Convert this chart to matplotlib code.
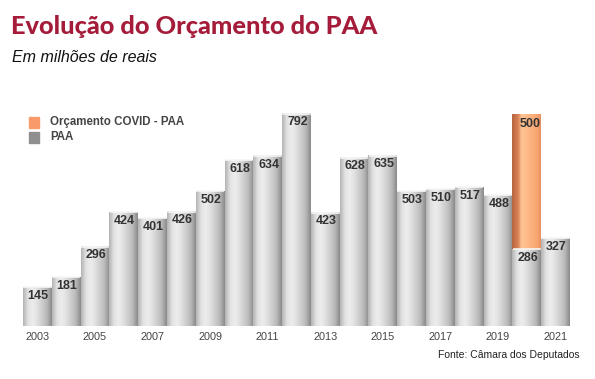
import numpy as np
import matplotlib.pyplot as plt
from matplotlib.colors import LinearSegmentedColormap

# --- dados ---
anos = list(range(2003, 2022))
paa = [145, 181, 296, 424, 401, 426, 502, 618, 634, 792, 423, 628, 635,
       503, 510, 517, 488, 286, 327]
covid_ano = 2020
covid_valor = 500
rotulos_anos = [a for a in anos if a % 2 == 1]

# --- cores ---
vermelho = "#a51c3a"
texto = "#333333"
cinza_bar = LinearSegmentedColormap.from_list(
    "cinza", ["#b4b4b4", "#e2e2e2", "#ededed", "#e0e0e0", "#cdcdcd", "#b8b8b8", "#8a8a8a"])
laranja_bar = LinearSegmentedColormap.from_list(
    "laranja", [(0, "#b86440"), (0.22, "#d98456"), (0.32, "#ffc595"),
                (0.6, "#fdb684"), (0.9, "#f7a46f"), (1, "#e8915e")])

fig = plt.figure(figsize=(5.95, 3.79), dpi=100)
ax = fig.add_axes([23 / 595, 53 / 379, 547 / 595, 220 / 379])

grad = np.linspace(0, 1, 64).reshape(1, -1)
w = 1.0
for i, v in enumerate(paa):
    ax.imshow(grad, cmap=cinza_bar, aspect="auto", extent=(i - w / 2, i + w / 2, 0, v),
              origin="lower", interpolation="bicubic", zorder=2)
    # borda superior clara
    ax.plot([i - w / 2 + 0.04, i + w / 2 - 0.04], [v, v], color="#f6f6f6", lw=1.2, zorder=3)
    ax.text(i + 0.03, v - 10, str(v), ha="center", va="top", fontsize=9,
            fontweight="bold", color=texto, family="Liberation Sans", zorder=5)

# barra COVID empilhada
ic = anos.index(covid_ano)
base = paa[ic]
ax.imshow(grad, cmap=laranja_bar, aspect="auto",
          extent=(ic - w / 2, ic + w / 2, base, base + covid_valor),
          origin="lower", interpolation="bicubic", zorder=2)
ax.text(ic + 0.1, base + covid_valor - 10, str(covid_valor), ha="center", va="top",
        fontsize=9, fontweight="bold", color=texto, family="Liberation Sans", zorder=5)

ax.set_xlim(-0.5, len(anos) - 0.5)
ax.set_ylim(0, 820)
ax.set_xticks([anos.index(a) for a in rotulos_anos])
ax.set_xticklabels([str(a) for a in rotulos_anos], fontsize=7.8, color="#444444",
                   family="Liberation Sans")
ax.tick_params(axis="x", length=0, pad=4)
ax.set_yticks([])
for s in ax.spines.values():
    s.set_visible(False)

# legenda
fig.patches.append(plt.Rectangle((29 / 595, 1 - 128 / 379), 10 / 595, 11 / 379,
                                 transform=fig.transFigure, color="#f99a6b"))
fig.patches.append(plt.Rectangle((29 / 595, 1 - 143 / 379), 10 / 595, 11 / 379,
                                 transform=fig.transFigure, color="#8f8f8f"))
fig.text(50 / 595, 1 - 122 / 379, "Orçamento COVID - PAA", fontsize=8.3, fontweight="bold",
         color="#444444", va="center", family="Liberation Sans")
fig.text(50 / 595, 1 - 137 / 379, "PAA", fontsize=8.3, fontweight="bold",
         color="#444444", va="center", family="Liberation Sans")

# títulos
fig.text(11 / 595, 1 - 27 / 379, "Evolução do Orçamento do PAA", fontsize=18.3,
         fontweight="black", color=vermelho, va="center", family=["Lato", "DejaVu Sans"])
fig.text(12 / 595, 1 - 57 / 379, "Em milhões de reais", fontsize=11.5, style="italic",
         color="#111111", va="center", family="Liberation Sans")
fig.text(580 / 595, 1 - 355 / 379, "Fonte: Câmara dos Deputados", fontsize=7.5,
         color="#222222", ha="right", va="center", family="Liberation Sans")

fig.savefig("out.png", dpi=100)
